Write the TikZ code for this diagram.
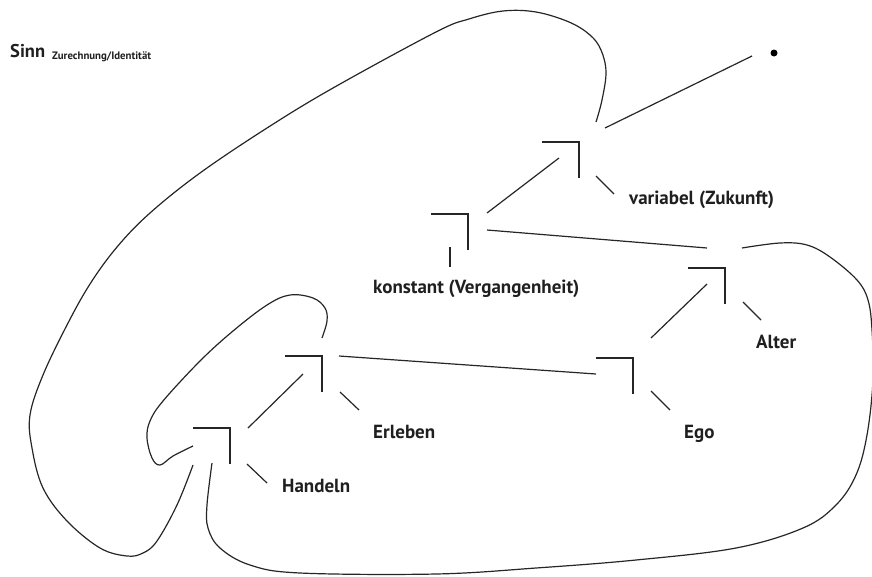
\documentclass[tikz,border=0pt]{standalone}
\usepackage{fontspec}
\setmainfont{PT Sans}
\newfontfamily\lblfont{PT Sans}
\usetikzlibrary{calc}
\tikzset{
  ln/.style={line width=1.2pt, draw=black!85},
  crossmark/.style={ln},
  lbl/.style={anchor=base west, inner sep=0pt, font=\lblfont\bfseries\fontsize{19}{19}\selectfont, text=black!88},
  curve/.style={ln, smooth, tension=0.6}
}
\begin{document}
\begin{tikzpicture}[x=1pt,y=-1pt]
\useasboundingbox (0,0) rectangle (872,576);
\clip (0,0) rectangle (872,576);
% mark corners
\coordinate (mA) at (230,428);
\coordinate (mB) at (322,356);
\coordinate (mE) at (633,358);
\coordinate (mL) at (725,268);
\coordinate (mK) at (468,214);
\coordinate (mV) at (579,142);
% marks
\foreach \m in {mA,mB,mE,mL,mK,mV}{
  \draw[crossmark] ($(\m)+(-37,0)$) -- (\m) -- ($(\m)+(0,36)$);
}
% labels
\node[lbl, font=\lblfont\bfseries\fontsize{18.5}{18.5}\selectfont] (sinn) at (10,57) {Sinn};
\node[lbl, font=\lblfont\bfseries\fontsize{10.8}{10.8}\selectfont] (sub) at (52,59) {Zurechnung/Identität};
\node[lbl] (hand) at (282,492) {Handeln};
\node[lbl] (erl) at (373,438) {Erleben};
\node[lbl] (ego) at (684,438) {Ego};
\node[lbl] (alt) at (756,348) {Alter};
\node[lbl] (kon) at (373,293) {konstant (Vergangenheit)};
\node[lbl] (var) at (629,204) {variabel (Zukunft)};
\node[circle, fill=black, inner sep=0pt, minimum size=7pt] (dot) at (774,53) {};
% connectors between marks
\draw[ln] ($(mA)+(18,0)$) -- ($(mB)+(-19,18)$);
\draw[ln] ($(mB)+(17,0)$) -- ($(mE)+(-37,16)$);
\draw[ln] ($(mE)+(18,-20)$) -- ($(mL)+(-18,16)$);
\draw[ln] ($(mK)+(19,16)$) -- ($(mL)+(-18,-20)$);
\draw[ln] ($(mK)+(19,-1)$) -- ($(mV)+(-20,16)$);
\draw[ln] ($(mV)+(26,-14)$) -- ($(dot)+(-22,3)$);
% label ticks
\draw[ln] ($(mA)+(17,36)$) -- ($(mA)+(37,55)$);
\draw[ln] ($(mB)+(18,36)$) -- ($(mB)+(37,54)$);
\draw[ln] ($(mE)+(18,33)$) -- ($(mE)+(37,52)$);
\draw[ln] ($(mL)+(18,34)$) -- ($(mL)+(36,52)$);
\draw[ln] ($(mV)+(17,34)$) -- ($(mV)+(35,52)$);
\draw[ln] ($(mK)+(-18,33)$) -- ($(mK)+(-18,53)$);
% outer curve (Sinn)
\draw[curve] plot coordinates {(596,122) (602,100) (606,72) (601,50) (590,35) (569,22) (536,12) (503,11) (469,19) (436,32) (333,88) (267,128) (200,173) (150,213) (117,247) (90,284) (67,325) (43,375) (30,415) (32,448) (43,488) (67,521) (100,548) (127,556) (143,553) (157,541) (177,505) (193,465)};
% inner loop
\draw[curve] plot coordinates {(193,446) (173,456) (160,465) (152,458) (147,438) (150,421) (163,401) (200,361) (233,331) (267,305) (290,295) (313,298) (325,308) (327,321) (322,338)};
% bottom loop
\draw[curve] plot coordinates {(212,463) (207,505) (208,528) (220,548) (250,565) (300,573) (436,574) (536,568) (636,560) (736,548) (803,528) (836,505) (856,475) (867,435) (873,380) (872,330) (868,300) (857,280) (830,257) (807,245) (780,243) (742,248)};
\end{tikzpicture}
\end{document}
